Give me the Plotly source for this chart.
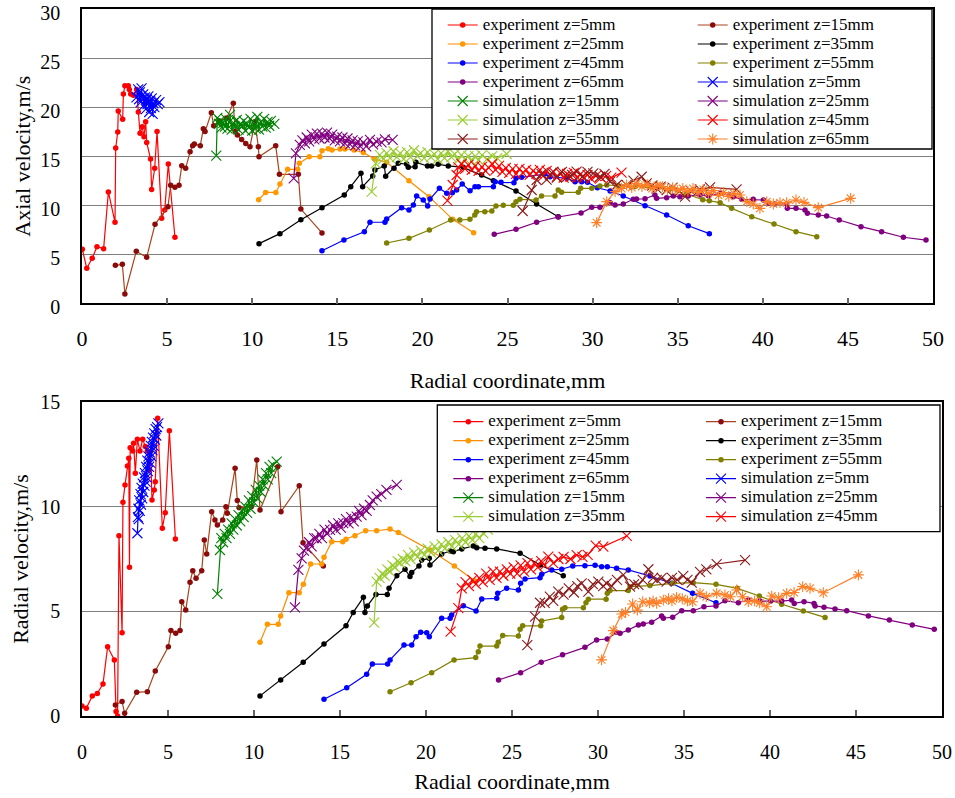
import plotly.graph_objects as go

# ---------------- data: Axial velocity (top chart) ----------------
t_e5_x = [0.02,0.28,0.6,0.88,1.27,1.55,1.94,1.98,2.1,2.13,2.39,2.43,2.52,2.72,2.78,2.86,3.02,3.21,3.31,3.41,3.54,3.64,3.74,3.8,4.03,4.09,4.27,4.41,4.68,4.86,5.07,5.46]
t_e5_y = [5.5,3.57,4.6,5.77,5.57,11.35,8.26,15.83,17.46,19.6,18.75,21.34,22.18,22.18,21.8,21.34,21.2,21.8,19.5,17.33,18.0,16.98,18.5,16.4,14.7,11.6,13.76,17.5,8.66,9.51,14.2,6.73]
t_e15_x = [1.96,2.37,2.52,3.19,3.8,4.29,5.05,5.21,5.46,5.7,5.86,6.09,6.35,6.5,6.6,6.95,7.13,7.23,7.6,7.74,8.05,8.5,8.89,9.0,9.13,9.38,9.62,9.87,10.16,10.36,10.4,11.38,11.6,12.71,12.86,14.1]
t_e15_y = [3.87,3.97,0.95,5.3,4.69,8.05,9.85,12.03,11.82,12.03,14.03,13.76,15.45,16.07,16.24,16.07,17.8,17.5,19.43,18.1,18.6,18.9,20.39,17.5,17.15,16.7,16.3,15.96,18.5,15.96,14.94,16.07,13.15,13.15,9.6,7.17]
t_e25_x = [10.38,10.79,11.39,11.63,12.08,12.67,12.77,13.35,13.98,14.1,14.47,14.69,15.16,15.45,15.98,16.53,17.2,17.9,19.21,20.39,21.78,23.01]
t_e25_y = [10.56,11.3,11.3,12.16,13.66,13.66,14.27,14.95,14.95,15.56,15.76,15.63,15.73,15.73,15.63,15.36,14.71,14.37,12.5,10.87,8.56,7.2]
t_e35_x = [10.4,11.63,12.86,14.1,15.41,15.79,16.39,16.49,17.08,17.21,17.76,17.84,18.33,18.58,19.07,19.17,19.57,19.62,20.3,20.54,20.93,21.52,22.4,23.48,24.17,25.5,26.71,27.98]
t_e35_y = [6.08,7.1,8.52,9.75,11.04,11.89,13.25,11.89,12.98,13.59,14.0,12.95,13.76,14.27,14.2,13.86,13.93,14.37,14.0,14.0,14.17,14.0,13.86,13.08,12.5,11.45,10.12,8.83]
t_e45_x = [14.1,15.39,16.59,16.92,17.8,17.9,18.78,19.21,19.47,19.66,20.05,20.31,20.45,21.0,21.43,21.76,22.01,22.34,22.8,23.09,23.29,24.17,24.27,24.62,25.38,25.5,25.83,27.2,27.5,28.48,28.97,29.36,29.7,30.28,31.03,31.8,33.08,34.35,35.62,36.86]
t_e45_y = [5.36,6.45,7.3,8.26,8.26,8.6,9.75,9.51,10.02,10.94,10.53,9.92,10.63,11.72,11.21,11.27,11.55,12.16,11.48,11.89,11.89,11.89,12.4,12.33,12.3,12.74,12.84,13.18,12.9,12.74,12.4,12.4,12.33,11.78,11.45,10.94,9.95,9.0,7.91,7.1]
t_e55_x = [17.9,19.21,20.41,21.66,22.2,22.79,23.08,23.18,23.67,24.08,24.32,24.75,25.34,25.5,25.73,26.68,27.0,27.79,27.98,28.18,29.16,29.3,29.95,30.43,30.83,31.5,32.5,33.5,34.5,35.52,36.47,36.86,37.49,38.17,39.35,40.66,41.95,43.17]
t_e55_y = [6.15,6.62,7.47,8.49,8.49,8.56,9.0,9.34,9.34,9.41,9.92,9.99,9.99,10.36,10.6,10.53,10.94,10.94,11.55,11.31,11.31,11.72,11.72,11.96,12.06,12.0,11.9,11.8,11.6,11.14,10.56,10.46,10.26,9.68,8.83,8.08,7.3,6.79]
t_e65_x = [24.22,25.5,26.71,27.98,29.32,29.95,30.43,31.03,31.32,31.8,32.39,32.58,33.08,33.66,33.76,34.35,34.74,35.13,35.62,36.31,36.8,37.49,38.07,38.27,38.76,39.44,40.03,40.32,40.72,41.4,41.44,41.95,42.48,42.62,43.26,43.75,44.49,45.77,46.98,48.26,49.59]
t_e65_y = [7.03,7.54,8.26,8.8,9.2,9.78,9.78,10.26,10.02,10.12,10.6,10.63,10.66,11.04,10.7,10.77,10.94,10.87,10.94,11.04,10.97,11.21,11.04,10.87,10.6,10.6,10.53,10.19,10.12,10.12,9.68,9.68,9.51,9.17,9.0,8.9,8.49,7.81,7.3,6.73,6.45]

t_s5_x = [3.2,3.3,3.35,3.4,3.45,3.5,3.55,3.6,3.65,3.7,3.75,3.8,3.85,3.9,3.95,4.0,4.05,4.1,4.15,4.2,4.25,4.35,4.45,4.55]
t_s5_y = [21.0,21.8,20.8,21.5,20.5,21.9,20.9,21.3,20.2,21.0,19.8,20.8,20.3,21.1,19.5,20.6,19.9,20.9,19.3,20.4,20.0,20.7,20.3,20.5]
t_s15_x = [7.89,7.95,8.05,8.1,8.2,8.3,8.4,8.45,8.55,8.65,8.7,8.8,8.9,9.0,9.1,9.2,9.3,9.4,9.5,9.6,9.7,9.8,9.9,10.0,10.1,10.2,10.3,10.4,10.5,10.6,10.7,10.8,10.9,11.0,11.1,11.3]
t_s15_y = [15.05,18.9,18.3,18.6,17.9,18.4,18.0,18.8,17.8,18.5,19.2,17.7,18.4,18.0,18.7,17.7,18.3,18.0,18.6,17.6,18.3,17.9,18.8,17.6,18.4,17.8,19.0,17.7,18.5,18.0,18.8,17.9,18.5,18.1,18.6,18.3]
t_s25_x = [12.44,12.57,12.8,12.95,13.1,13.2,13.35,13.5,13.65,13.8,13.95,14.1,14.25,14.4,14.55,14.7,14.85,15.0,15.15,15.3,15.45,15.6,15.75,15.9,16.05,16.2,16.35,16.53,16.7,16.92,17.1,17.31,17.6,17.8,18.25]
t_s25_y = [12.74,15.29,16.14,16.6,16.3,16.9,16.5,17.2,16.7,17.3,16.8,17.3,16.9,17.4,16.8,17.2,16.6,17.0,16.5,16.9,16.3,16.8,16.2,16.6,16.1,16.5,16.0,16.4,16.0,16.65,16.2,16.47,16.4,16.7,16.65]
t_s35_x = [17.02,17.26,17.5,17.7,17.9,18.1,18.3,18.5,18.7,18.9,19.1,19.3,19.5,19.7,19.9,20.1,20.3,20.5,20.7,20.9,21.1,21.3,21.5,21.7,21.9,22.1,22.3,22.5,22.7,22.9,23.1,23.3,23.5,23.8,24.1,24.4,24.95]
t_s35_y = [11.38,14.27,15.12,14.7,15.3,14.8,15.5,14.9,15.3,14.7,15.4,14.9,15.6,15.0,15.3,14.8,15.4,14.9,15.2,14.7,15.3,14.8,15.5,14.9,15.2,14.6,15.1,14.7,15.0,14.5,15.0,14.6,15.1,14.7,15.0,14.8,15.22]
t_s45_x = [21.47,21.78,22.01,22.11,22.3,22.5,22.7,22.9,23.1,23.3,23.5,23.7,23.9,24.1,24.3,24.5,24.7,24.9,25.1,25.3,25.5,25.7,25.9,26.1,26.3,26.5,26.7,26.9,27.1,27.3,27.5,27.7,27.9,28.1,28.3,28.5,28.7,28.9,29.1,29.3,29.5,29.7,29.9,30.2,30.5,30.8,31.1,31.7]
t_s45_y = [10.46,12.06,13.08,13.86,14.2,13.7,14.1,13.6,14.0,13.5,13.9,13.5,13.8,14.2,13.6,14.0,13.4,13.8,13.3,13.7,13.2,13.7,13.3,13.6,13.1,13.5,13.2,13.6,13.0,13.5,13.1,13.4,12.9,13.3,12.8,13.2,12.9,13.3,12.8,13.2,12.8,13.1,12.7,13.0,12.8,13.0,12.8,13.32]
t_s55_x = [25.89,26.42,26.71,27.0,27.3,27.6,27.9,28.2,28.5,28.8,29.06,29.4,29.7,30.04,30.43,30.7,31.03,31.42,32.0,32.4,32.88,33.18,33.5,33.76,34.0,34.35,34.7,35.1,35.43,35.8,36.3,36.9,38.46]
t_s55_y = [9.41,11.55,12.57,13.2,12.6,13.3,12.8,13.4,12.9,13.1,13.42,12.9,13.4,13.25,12.9,13.2,12.4,12.06,12.06,12.5,12.9,12.23,12.0,11.72,11.9,11.55,11.8,11.4,10.87,11.4,11.6,11.82,11.62]
t_s65_x = [30.24,30.83,31.32,31.7,32.0,32.3,32.6,32.9,33.2,33.5,33.8,34.1,34.4,34.7,35.0,35.3,35.6,35.9,36.2,36.5,36.8,37.1,37.4,37.7,38.0,38.3,38.66,39.06,39.44,39.83,40.23,40.62,41.01,41.4,41.95,42.42,43.26,45.16]
t_s65_y = [8.22,10.36,11.38,11.7,12.06,11.8,12.2,11.9,12.1,11.7,12.0,11.9,11.6,11.8,11.5,11.7,11.4,11.7,11.3,11.6,11.2,11.5,11.0,11.3,10.9,11.2,11.04,10.36,10.12,9.68,10.36,10.12,10.26,10.26,10.53,10.29,9.75,10.7]

# ---------------- data: Radial velocity (bottom chart) ----------------
b_e5_x = [0.0,0.25,0.6,0.89,1.22,1.49,1.88,1.98,2.07,2.15,2.33,2.38,2.5,2.64,2.72,2.76,2.8,2.95,3.0,3.1,3.22,3.37,3.53,3.68,3.8,3.9,3.99,4.07,4.2,4.26,4.4,4.67,4.84,5.08,5.43]
b_e5_y = [0.48,0.37,0.96,1.08,1.53,3.31,2.68,0.21,0.0,8.61,3.98,10.21,11.04,11.94,12.31,7.1,12.82,12.66,13.03,11.6,13.22,12.66,13.22,12.87,12.66,11.75,12.63,10.32,10.8,11.19,14.22,8.97,9.71,13.63,8.46]
b_e15_x = [1.94,2.33,2.48,3.18,3.8,4.26,5.02,5.17,5.45,5.7,5.8,6.03,6.28,6.44,6.63,6.96,7.11,7.25,7.54,7.73,7.87,8.18,8.37,8.45,8.9,9.03,9.13,9.84,10.16,10.35,11.38,11.57,12.63,12.85,14.03]
b_e15_y = [0.53,0.69,0.13,1.13,1.16,2.15,3.31,4.08,3.95,4.08,5.46,5.06,6.39,6.94,6.58,6.94,8.41,7.74,9.76,9.36,9.13,9.36,10.0,9.68,11.83,10.29,9.95,10.0,12.23,9.84,11.91,9.76,11.0,8.28,7.17]
b_e25_x = [10.35,10.78,11.41,11.55,12.03,12.63,12.87,13.29,13.93,14.07,14.52,15.16,15.35,15.87,16.49,17.13,17.91,18.39,20.23,21.65,22.85]
b_e25_y = [3.52,4.38,4.38,4.78,5.89,5.89,6.29,7.26,7.26,7.58,8.33,8.33,8.44,8.61,8.85,8.85,8.93,8.76,7.93,7.17,6.45]
b_e35_x = [10.35,11.55,12.86,14.07,15.35,15.77,16.36,16.45,16.59,17.09,17.75,17.85,18.3,18.78,19.07,19.17,19.59,19.75,20.19,20.23,20.91,21.4,21.59,22.08,22.75,22.95,23.43,24.11,25.47,26.63,27.98]
b_e35_y = [0.96,1.72,2.57,3.44,4.31,4.95,5.67,4.94,5.26,5.81,5.81,6.1,6.7,7.01,6.66,6.85,7.17,7.45,7.53,7.21,7.74,7.88,7.85,7.98,8.12,8.04,8.01,7.98,7.77,7.21,6.7]
b_e45_x = [14.07,15.39,16.55,16.88,17.77,17.91,18.72,19.17,19.42,19.69,20.04,20.19,20.91,21.4,21.49,22.17,22.91,23.24,24.11,24.17,24.69,25.37,25.5,25.76,26.63,26.73,27.31,27.89,28.53,29.24,29.83,30.21,30.54,31.08,31.76,33.02,34.28,35.5,36.86]
b_e45_y = [0.8,1.35,1.99,2.48,2.48,2.68,3.39,3.39,3.79,4.0,3.98,3.79,4.67,4.67,4.83,5.27,5.02,5.59,5.62,5.86,6.1,6.02,6.34,6.55,6.61,6.77,6.98,7.01,7.17,7.18,7.2,7.13,7.13,7.06,6.98,6.69,6.34,5.86,5.41]
b_e55_x = [17.91,19.13,20.33,21.63,22.89,23.04,23.14,24.11,24.2,24.46,25.37,25.47,25.62,26.67,26.73,27.89,27.94,28.08,29.15,29.3,29.44,30.47,30.54,30.7,31.76,31.86,33.02,34.34,35.54,36.86,38.1,39.38,40.68,41.94,43.2]
b_e55_y = [1.16,1.59,2.07,2.68,2.79,3.07,3.34,3.34,3.52,3.84,3.82,4.14,4.31,4.31,4.54,4.71,5.1,5.17,5.17,5.41,5.58,5.58,5.86,5.99,5.99,6.18,6.23,6.34,6.37,6.29,6.1,5.73,5.34,5.02,4.71]
b_e65_x = [24.22,25.5,26.7,27.94,29.24,29.92,30.54,31.08,31.28,31.76,32.35,32.63,33.12,33.7,33.8,34.34,34.87,35.54,36.16,36.86,37.38,38.16,38.74,39.42,40.04,40.68,41.26,41.41,41.98,42.56,42.62,43.14,43.78,44.46,45.72,46.94,48.27,49.55]
b_e65_y = [1.72,2.07,2.57,2.93,3.28,3.63,3.68,4.0,3.95,4.11,4.35,4.4,4.48,4.78,4.67,4.72,5.03,5.03,5.22,5.26,5.51,5.41,5.54,5.49,5.49,5.49,5.54,5.38,5.46,5.38,5.26,5.19,5.11,5.03,4.78,4.59,4.35,4.14]

b_s5_x = [3.22,3.25,3.28,3.3,3.33,3.36,3.4,3.43,3.46,3.5,3.53,3.56,3.6,3.63,3.66,3.7,3.73,3.76,3.8,3.83,3.86,3.9,3.93,3.96,4.0,4.03,4.06,4.1,4.13,4.17,4.2,4.24,4.28,4.32,4.36,4.44]
b_s5_y = [8.73,9.5,9.9,9.4,10.3,9.8,10.6,10.1,10.9,10.4,11.1,10.7,11.4,11.0,11.6,11.2,11.9,11.4,12.2,11.7,12.4,11.9,12.6,12.1,12.9,12.4,13.1,12.7,13.3,12.9,13.5,13.2,13.7,13.4,13.8,13.98]
b_s15_x = [7.87,8.02,8.1,8.2,8.3,8.4,8.5,8.6,8.7,8.8,8.9,9.0,9.1,9.2,9.3,9.4,9.5,9.6,9.7,9.8,9.9,10.0,10.1,10.2,10.3,10.4,10.5,10.6,10.7,10.8,10.9,11.0,11.1,11.32]
b_s15_y = [5.83,7.93,8.5,8.3,8.7,8.5,8.9,8.7,9.2,8.9,9.4,9.1,9.6,9.3,9.8,9.5,10.0,9.7,10.3,9.9,10.5,10.2,10.8,10.4,11.0,10.7,11.3,11.0,11.6,11.3,11.9,11.6,12.0,12.15]
b_s25_x = [12.38,12.58,12.77,12.9,13.06,13.2,13.35,13.5,13.64,13.8,13.95,14.1,14.25,14.42,14.6,14.75,14.9,15.05,15.19,15.35,15.5,15.65,15.8,15.97,16.1,16.25,16.4,16.55,16.74,16.9,17.13,17.4,17.7,18.3]
b_s25_y = [5.19,6.98,7.53,7.9,8.01,8.3,8.1,8.5,8.49,8.7,8.5,8.9,8.7,8.89,9.1,8.9,9.2,9.0,9.21,9.4,9.2,9.5,9.3,9.52,9.8,9.6,9.9,9.8,10.08,10.3,10.48,10.6,10.8,11.04]
b_s35_x = [16.98,17.13,17.3,17.45,17.6,17.75,17.9,18.05,18.2,18.35,18.5,18.65,18.8,18.95,19.1,19.3,19.5,19.7,19.9,20.1,20.3,20.5,20.7,20.9,21.1,21.3,21.5,21.7,21.9,22.1,22.3,22.5,22.7,22.9,23.1,23.33,23.6]
b_s35_y = [4.46,6.42,6.6,6.8,6.7,7.0,6.9,7.2,7.1,7.4,7.3,7.5,7.4,7.7,7.5,7.8,7.6,7.9,7.7,8.0,7.8,8.1,7.9,8.2,8.0,8.3,8.1,8.4,8.2,8.5,8.3,8.6,8.4,8.7,8.5,8.73,8.9]
b_s45_x = [21.43,21.88,22.08,22.3,22.5,22.7,22.9,23.1,23.3,23.5,23.7,23.9,24.1,24.3,24.5,24.7,24.9,25.1,25.3,25.5,25.7,25.9,26.1,26.3,26.5,26.7,26.9,27.11,27.4,27.7,28.0,28.4,28.76,29.1,29.4,29.87,30.31,31.67]
b_s45_y = [4.03,5.15,6.1,6.4,6.2,6.5,6.3,6.6,6.4,6.8,6.5,6.9,6.6,6.9,6.7,7.0,6.8,7.1,6.8,7.2,6.9,7.3,7.0,7.3,7.1,7.4,7.2,7.61,7.3,7.5,7.6,7.5,7.69,7.6,7.7,8.14,8.09,8.6]
b_s55_x = [25.89,26.34,26.63,26.9,27.2,27.4,27.69,28.0,28.3,28.6,28.8,29.05,29.44,29.7,30.02,30.3,30.5,30.8,31.1,31.47,31.86,32.1,32.35,32.6,32.93,33.2,33.41,33.7,33.99,34.3,34.6,34.96,35.2,35.45,35.93,36.3,36.9,38.55]
b_s55_y = [3.39,4.75,5.41,5.4,5.7,5.5,5.94,5.8,6.1,5.9,6.2,6.34,5.94,6.3,6.42,6.2,6.34,6.2,6.5,6.74,6.18,6.3,6.26,6.5,7.01,6.6,6.5,6.6,6.42,6.6,6.5,6.69,6.5,6.37,6.89,7.0,7.26,7.45]
b_s65_x = [30.21,30.89,31.38,31.6,32.01,32.29,32.6,33.0,33.2,33.41,33.8,34.1,34.3,34.57,34.9,35.2,35.5,35.93,36.3,36.9,37.38,37.7,38.06,38.4,38.74,39.1,39.4,39.81,40.1,40.5,40.97,41.4,41.9,42.33,43.1,45.14]
b_s65_y = [2.68,4.08,4.87,4.95,5.35,5.06,5.46,5.4,5.5,5.38,5.54,5.6,5.5,5.67,5.6,5.5,5.46,5.86,5.7,5.86,5.78,5.7,6.02,5.7,5.46,5.5,5.4,5.22,5.73,5.65,5.86,5.9,6.18,6.1,5.89,6.74]

labels = ["experiment z=5mm", "experiment z=15mm", "experiment z=25mm", "experiment z=35mm",
          "experiment z=45mm", "experiment z=55mm", "experiment z=65mm", "simulation z=5mm",
          "simulation z=15mm", "simulation z=25mm", "simulation z=35mm", "simulation z=45mm",
          "simulation z=55mm", "simulation z=65mm"]

top_series = [(t_e5_x, t_e5_y), (t_e15_x, t_e15_y), (t_e25_x, t_e25_y), (t_e35_x, t_e35_y),
              (t_e45_x, t_e45_y), (t_e55_x, t_e55_y), (t_e65_x, t_e65_y), (t_s5_x, t_s5_y),
              (t_s15_x, t_s15_y), (t_s25_x, t_s25_y), (t_s35_x, t_s35_y), (t_s45_x, t_s45_y),
              (t_s55_x, t_s55_y), (t_s65_x, t_s65_y)]
bottom_series = [(b_e5_x, b_e5_y), (b_e15_x, b_e15_y), (b_e25_x, b_e25_y), (b_e35_x, b_e35_y),
                 (b_e45_x, b_e45_y), (b_e55_x, b_e55_y), (b_e65_x, b_e65_y), (b_s5_x, b_s5_y),
                 (b_s15_x, b_s15_y), (b_s25_x, b_s25_y), (b_s35_x, b_s35_y), (b_s45_x, b_s45_y),
                 (b_s55_x, b_s55_y), (b_s65_x, b_s65_y)]

# ---------------- styles ----------------
styles = [
    dict(line="#FF0000", mk="#FF0000", sym="circle"),
    dict(line="#A8441C", mk="#8B0A0A", sym="circle"),
    dict(line="#FF8C00", mk="#FF9900", sym="circle"),
    dict(line="#000000", mk="#000000", sym="circle"),
    dict(line="#0000FF", mk="#0000FF", sym="circle"),
    dict(line="#808000", mk="#808000", sym="circle"),
    dict(line="#800080", mk="#800080", sym="circle"),
    dict(line="#0000FF", mk="#0000FF", sym="x-thin-open"),
    dict(line="#008000", mk="#008000", sym="x-thin-open"),
    dict(line="#800080", mk="#800080", sym="x-thin-open"),
    dict(line="#9ACD32", mk="#9ACD32", sym="x-thin-open"),
    dict(line="#FF0000", mk="#FF0000", sym="x-thin-open"),
    dict(line="#8C1C1C", mk="#8C1C1C", sym="x-thin-open"),
    dict(line="#FF7F27", mk="#FF7F27", sym="asterisk-open"),
]

FONT = "Liberation Serif, Times New Roman, Times, serif"
LEG_TXT = 17

fig = go.Figure()


def add_series(series, xa, ya, legs, hidden):
    for i, ((xs, ys), lab, st) in enumerate(zip(series, labels, styles)):
        if st["sym"] == "circle":
            marker = dict(symbol="circle", size=5.5, color=st["mk"], line=dict(width=0))
        elif st["sym"] == "asterisk-open":
            marker = dict(symbol="asterisk-open", size=9, color=st["mk"],
                          line=dict(width=1.1, color=st["mk"]))
        else:
            marker = dict(symbol="x-thin-open", size=10, color=st["mk"],
                          line=dict(width=1.1, color=st["mk"]))
        fig.add_trace(go.Scatter(
            x=xs, y=ys, xaxis=xa, yaxis=ya, mode="lines+markers",
            name='<span style="font-size:%dpx">%s</span>' % (LEG_TXT, lab),
            line=dict(color=st["line"], width=1.2),
            marker=marker,
            legend=legs[i % 2],
            showlegend=(i not in hidden),
        ))


add_series(top_series, "x", "y", ["legend", "legend2"], [])
add_series(bottom_series, "x2", "y2", ["legend3", "legend4"], [12, 13])

# ---------------- layout ----------------
L, R, T, B = 82, 13, 9, 82
W, H = 955, 798
PW, PH = W - L - R, H - T - B


def px_x(px):
    return (px - L) / PW


def px_y(py):
    return (H - B - py) / PH


def leg(x_text_px, top_px):
    return dict(x=px_x(x_text_px - 40), y=px_y(top_px), xanchor="left", yanchor="top",
                bgcolor="rgba(0,0,0,0)", borderwidth=0, orientation="v",
                font=dict(family=FONT, size=12, color="black"))


axis_common = dict(showline=True, linecolor="black", linewidth=1.5, mirror=True,
                   zeroline=False, automargin=False, ticklabeloverflow="allow")

fig.update_layout(
    width=W, height=H, autosize=False,
    margin=dict(l=L, r=R, t=T, b=B, pad=0, autoexpand=False),
    paper_bgcolor="white", plot_bgcolor="white",
    font=dict(family=FONT, color="black"),
    showlegend=True,
    xaxis=dict(domain=[0, px_x(933)], anchor="y", range=[0, 50], tick0=0, dtick=5,
               showgrid=False, ticks="inside", ticklen=6, tickwidth=1.5, tickcolor="#666666",
               tickfont=dict(size=22), ticklabelstandoff=15,
               title=dict(text="Radial coordinate,mm", font=dict(size=22), standoff=22),
               **axis_common),
    yaxis=dict(domain=[px_y(303.3), 1], anchor="x", range=[0, 30], tick0=0, dtick=5,
               showgrid=True, gridcolor="#7f7f7f", gridwidth=1, ticks="",
               tickfont=dict(size=20), ticklabelstandoff=16, ticklabelshift=4,
               title=dict(text="Axial velocity,m/s", font=dict(size=22), standoff=4),
               **axis_common),
    xaxis2=dict(domain=[0, 1], anchor="y2", range=[0, 50], tick0=0, dtick=5,
                showgrid=False, ticks="inside", ticklen=6, tickwidth=1.5, tickcolor="#666666",
                tickfont=dict(size=20), ticklabelstandoff=17,
                title=dict(text="Radial coordinate,mm", font=dict(size=22), standoff=12),
                **axis_common),
    yaxis2=dict(domain=[0, px_y(402)], anchor="x2", range=[0, 15], tick0=0, dtick=5,
                showgrid=True, gridcolor="#7f7f7f", gridwidth=1, ticks="",
                tickfont=dict(size=20), ticklabelstandoff=16,
                title=dict(text="Radial velocity,m/s", font=dict(size=22), standoff=6),
                **axis_common),
    legend=leg(482.7, 10.5),
    legend2=leg(732.7, 10.5),
    legend3=leg(488.3, 407.2),
    legend4=leg(741.0, 407.2),
    shapes=[
        dict(type="rect", xref="paper", yref="paper", layer="above",
             x0=px_x(432), x1=px_x(932), y0=px_y(149), y1=px_y(9),
             line=dict(color="black", width=1.3), fillcolor="white"),
        dict(type="rect", xref="paper", yref="paper", layer="above",
             x0=px_x(437.3), x1=px_x(940), y0=px_y(531.7), y1=px_y(405),
             line=dict(color="black", width=1.3), fillcolor="white"),
    ],
)

fig.write_html("out.html")
